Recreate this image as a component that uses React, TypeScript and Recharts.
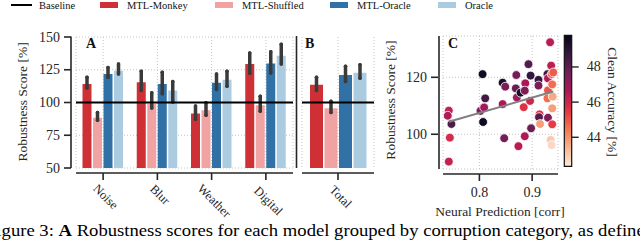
import React from "react";
import {
  BarChart, Bar, XAxis, YAxis, CartesianGrid, ReferenceLine, ErrorBar,
  ScatterChart, Scatter, ComposedChart, ReferenceArea,
} from "recharts";

// panel A
const CATEGORIES = ["Noise", "Blur", "Weather", "Digital"];
const MONKEY = [114.2, 115.5, 91.6, 129.3];
const MONKEY_LO = [111, 109.2, 87.3, 122.3];
const MONKEY_HI = [119.3, 123.8, 97.4, 137.7];
const SHUFFLED = [88.3, 99.1, 94.1, 97.9];
const SHUFFLED_LO = [86.5, 95.8, 90.3, 93.3];
const SHUFFLED_HI = [92.3, 107.4, 99.9, 104.7];
const MTL_ORACLE = [121.8, 114.2, 115, 129.8];
const MTL_ORACLE_LO = [119.3, 106.7, 110, 122.5];
const MTL_ORACLE_HI = [126.8, 123, 121.8, 138.7];
const ORACLE = [124.3, 109.2, 117.3, 135.6];
const ORACLE_LO = [121.8, 100.4, 112.5, 129.3];
const ORACLE_HI = [129.3, 116, 123.8, 144.5];

// panel B
const TOTAL_CAT = ["Total"];
const TOTAL = [113.5, 95.6, 121, 122.8];
const TOTAL_LO = [109.2, 92.3, 116, 118.5];
const TOTAL_HI = [119.3, 100.9, 127.6, 128.8];

const SCORE_TICKS = [50, 75, 100, 125, 150];
const BASELINE = 100;

// panel C
const NEURAL_PRED = [
  0.742, 0.740, 0.747, 0.744, 0.742, 0.806, 0.807, 0.811, 0.802, 0.809,
  0.844, 0.849, 0.844, 0.847, 0.870, 0.869, 0.871, 0.878, 0.887, 0.886,
  0.884, 0.874, 0.886, 0.893, 0.897, 0.896, 0.898, 0.912, 0.912, 0.914,
  0.913, 0.915, 0.929, 0.930, 0.930, 0.929, 0.930, 0.934, 0.936, 0.937,
  0.938, 0.939, 0.938, 0.938, 0.935, 0.937, 0.940,
];
const ROBUSTNESS = [
  108.3, 106.5, 103.6, 98.8, 90.4, 121.1, 104.3, 112.6, 108.2, 109.4,
  118.1, 116.7, 110.6, 98.6, 120.8, 116.1, 112.9, 114.6, 117.9, 115.3,
  109.5, 95.8, 99.3, 124.6, 120.6, 111.7, 102.1, 119.1, 117.1, 107.0,
  106.0, 103.6, 121.1, 119.6, 115.4, 112.6, 105.8, 132.3, 124.1, 121.1,
  117.5, 113.2, 109.1, 103.5, 98.0, 96.2, 121.7,
];
const CLEAN_ACC = [
  46.2, 46.5, 48.3, 45.8, 46.2, 49.5, 49.6, 48.5, 47.5, 46.8,
  49.3, 47.5, 46.6, 47.6, 47.6, 47.8, 46.8, 49.3, 46.6, 47.4,
  45.6, 46.4, 46.5, 48.2, 48.8, 46.0, 47.8, 48.8, 47.5, 45.6,
  48.2, 43.8, 48.6, 46.5, 45.0, 44.6, 47.4, 46.4, 46.3, 44.8,
  44.6, 43.6, 43.8, 45.4, 43.0, 42.7, 44.9,
];
const FIT_X = [0.742, 0.94];
const FIT_Y = [104.4, 115.0];
const ACC_MIN = 42.35;
const ACC_MAX = 49.8;
const ACC_TICKS = [44, 46, 48];

const ROCKET = ["#03051a", "#35193e", "#701f57", "#ad1759", "#e13342", "#f37651", "#f6b48f", "#faebdd"];

const RED = "#cf3035";
const PINK = "#f1a3a4";
const BLUE = "#3271a6";
const LIGHT = "#abcbe1";
const INK = "#262626";
const ERR = "#3a3a3a";
const GRID = "#c4c4c4";
const FONT = '"Liberation Serif", "Times New Roman", serif';

function hexToRgb(h: string) {
  return [1, 3, 5].map((i) => parseInt(h.slice(i, i + 2), 16));
}
function rocketR(acc: number) {
  let t = (ACC_MAX - acc) / (ACC_MAX - ACC_MIN);
  t = Math.max(0, Math.min(1, t));
  const pos = t * (ROCKET.length - 1);
  const i = Math.min(ROCKET.length - 2, Math.floor(pos));
  const f = pos - i;
  const a = hexToRgb(ROCKET[i]);
  const b = hexToRgb(ROCKET[i + 1]);
  const c = a.map((v, k) => Math.round(v + (b[k] - v) * f));
  return `rgb(${c[0]},${c[1]},${c[2]})`;
}

const err = (v: number, lo: number, hi: number) => [v - lo, hi - v];

const rowsA = CATEGORIES.map((cat, i) => ({
  cat,
  monkey: MONKEY[i], monkeyErr: err(MONKEY[i], MONKEY_LO[i], MONKEY_HI[i]),
  shuffled: SHUFFLED[i], shuffledErr: err(SHUFFLED[i], SHUFFLED_LO[i], SHUFFLED_HI[i]),
  mtlOracle: MTL_ORACLE[i], mtlOracleErr: err(MTL_ORACLE[i], MTL_ORACLE_LO[i], MTL_ORACLE_HI[i]),
  oracle: ORACLE[i], oracleErr: err(ORACLE[i], ORACLE_LO[i], ORACLE_HI[i]),
}));

const rowsB = TOTAL_CAT.map((cat) => ({
  cat,
  monkey: TOTAL[0], monkeyErr: err(TOTAL[0], TOTAL_LO[0], TOTAL_HI[0]),
  shuffled: TOTAL[1], shuffledErr: err(TOTAL[1], TOTAL_LO[1], TOTAL_HI[1]),
  mtlOracle: TOTAL[2], mtlOracleErr: err(TOTAL[2], TOTAL_LO[2], TOTAL_HI[2]),
  oracle: TOTAL[3], oracleErr: err(TOTAL[3], TOTAL_LO[3], TOTAL_HI[3]),
}));

const points = NEURAL_PRED.map((x, i) => ({ x, y: ROBUSTNESS[i], fill: rocketR(CLEAN_ACC[i]) }));
const fitLine = FIT_X.map((x, i) => ({ x, y: FIT_Y[i] }));

const SERIES = [
  { key: "monkey", name: "MTL-Monkey", color: RED },
  { key: "shuffled", name: "MTL-Shuffled", color: PINK },
  { key: "mtlOracle", name: "MTL-Oracle", color: BLUE },
  { key: "oracle", name: "Oracle", color: LIGHT },
];

const YTick = (props: any) => {
  const { x, y, payload } = props;
  return (
    <g>
      <line x1={x - 12} x2={x - 5} y1={y} y2={y} stroke={INK} strokeWidth={1.6} />
      <text x={x - 16} y={y} textAnchor="end" dominantBaseline="central" fontSize={14} fontFamily={FONT} fill={INK}>
        {payload.value}
      </text>
    </g>
  );
};

const NumXTick = (props: any) => {
  const { x, y, payload } = props;
  return (
    <g>
      <line x1={x} x2={x} y1={y + 5} y2={y + 12} stroke={INK} strokeWidth={1.6} />
      <text x={x} y={y + 28} textAnchor="middle" fontSize={14} fontFamily={FONT} fill={INK}>
        {payload.value.toFixed(1)}
      </text>
    </g>
  );
};

const CatTick = (props: any) => {
  const { x, y, payload } = props;
  const fs = 12.5;
  const len = String(payload.value).length * fs * 0.47;
  const cx = x + 2.5;
  const cy = y + 14 + (len + fs) * 0.3535;
  return (
    <g>
      <line x1={x} x2={x} y1={y + 5} y2={y + 12} stroke={INK} strokeWidth={1.6} />
      <text x={cx} y={cy} transform={`rotate(45 ${cx} ${cy})`} textAnchor="middle" dominantBaseline="central"
        fontSize={fs} fontFamily={FONT} fill={INK}>
        {payload.value}
      </text>
    </g>
  );
};

const BarTick = (props: any) => {
  const { x, y, payload } = props;
  return (
    <g>
      <line x1={x} x2={x + 7} y1={y} y2={y} stroke={INK} strokeWidth={1.4} />
      <text x={x + 15} y={y} textAnchor="start" dominantBaseline="central" fontSize={14} fontFamily={FONT} fill={INK}>
        {payload.value}
      </text>
    </g>
  );
};

function bars() {
  return SERIES.map((s) => (
    <Bar key={s.key} dataKey={s.key} fill={s.color} isAnimationActive={false}>
      <ErrorBar dataKey={s.key + "Err"} width={0} stroke={ERR} strokeWidth={3.5} strokeLinecap="round" />
    </Bar>
  ));
}

const abs: React.CSSProperties = { position: "absolute", left: 0, top: 0 };

export default function App() {
  return (
    <div style={{ position: "fixed", left: 0, top: 0, width: 640, height: 240, overflow: "hidden", background: "#fff", fontFamily: FONT }}>
      {/* A */}
      <div style={abs}>
        <BarChart width={300} height={240} data={rowsA} margin={{ top: 37, right: 7, bottom: 0, left: 0 }}
          barCategoryGap={6.5} barGap={1.5}>
          <CartesianGrid stroke={GRID} strokeDasharray="1 2" />
          <XAxis dataKey="cat" height={72} axisLine={false} tickLine={false} tickSize={0} tickMargin={0}
            tick={<CatTick />} interval={0} />
          <YAxis width={76} domain={[50, 150]} ticks={SCORE_TICKS} allowDataOverflow axisLine={false}
            tickLine={false} tickSize={0} tickMargin={0} tick={<YTick />} />
          {bars()}
          <ReferenceLine y={BASELINE} stroke="#000" strokeWidth={2} />
        </BarChart>
      </div>

      {/* B */}
      <div style={abs}>
        <BarChart width={640} height={240} data={rowsB} margin={{ top: 37, right: 266, bottom: 0, left: 302 }}
          barCategoryGap={8} barGap={1.5}>
          <CartesianGrid stroke={GRID} strokeDasharray="1 2" horizontal={false} />
          <XAxis dataKey="cat" height={72} axisLine={false} tickLine={false} tickSize={0} tickMargin={0}
            tick={<CatTick />} />
          <YAxis hide domain={[50, 150]} allowDataOverflow />
          {bars()}
          <ReferenceLine y={BASELINE} stroke="#000" strokeWidth={2} />
        </BarChart>
      </div>

      {/* C */}
      <div style={abs}>
        <ScatterChart width={640} height={240} margin={{ top: 36, right: 82, bottom: 0, left: 403 }}>
          <CartesianGrid stroke={GRID} strokeDasharray="1 2" />
          <XAxis type="number" dataKey="x" domain={[0.731, 0.949]} ticks={[0.8, 0.9]} allowDataOverflow height={71}
            axisLine={false} tickLine={false} tickSize={0} tickMargin={0} tick={<NumXTick />} />
          <YAxis type="number" dataKey="y" domain={[87.8, 134.5]} ticks={[100, 120]} allowDataOverflow width={40}
            axisLine={false} tickLine={false} tickSize={0} tickMargin={0} tick={<YTick />} />
          <Scatter data={points} isAnimationActive={false}
            shape={(p: any) => <circle cx={p.cx} cy={p.cy} r={4.4} fill={p.payload.fill} stroke="#fff" strokeWidth={0.8} />} />
          <Scatter data={fitLine} isAnimationActive={false} line={{ stroke: "#808080", strokeWidth: 2 }}
            shape={() => <g />} />
        </ScatterChart>
      </div>

      {/* colorbar */}
      <div style={abs}>
        <ComposedChart width={640} height={240} data={[{ x: 0 }, { x: 1 }]}
          margin={{ top: 35.3, right: 28.3, bottom: 73.7, left: 564.3 }}>
          <defs>
            <linearGradient id="rocketR" x1="0" y1="0" x2="0" y2="1">
              {ROCKET.map((c, i) => <stop key={i} offset={i / (ROCKET.length - 1)} stopColor={c} />)}
            </linearGradient>
          </defs>
          <XAxis hide type="number" dataKey="x" domain={[0, 1]} />
          <YAxis orientation="right" width={40} domain={[ACC_MIN, ACC_MAX]} ticks={ACC_TICKS} allowDataOverflow
            axisLine={false} tickLine={false} tickSize={0} tickMargin={0} tick={<BarTick />} />
          <ReferenceArea x1={0} x2={1} y1={ACC_MIN} y2={ACC_MAX} fill="url(#rocketR)" fillOpacity={1}
            stroke="#111" strokeWidth={1.2} />
        </ComposedChart>
      </div>

      {/* spines, legend, labels */}
      <svg width={640} height={240} style={{ ...abs, pointerEvents: "none" }} fontFamily={FONT}>
        <g stroke={INK} strokeWidth={1.6}>
          <line x1={71} x2={71} y1={36.5} y2={168} />
          <line x1={76} x2={293} y1={173} y2={173} />
          <line x1={296.5} x2={296.5} y1={36} y2={168} />
          <line x1={302} x2={374} y1={173} y2={173} />
          <line x1={439} x2={439} y1={36} y2={169} />
          <line x1={443} x2={558} y1={174} y2={174} />
        </g>
        <g fontSize={10.5} fill="#111">
          <line x1={11} x2={32} y1={5} y2={5} stroke="#000" strokeWidth={2} />
          <text x={39} y={9}>Baseline</text>
          <rect x={100} y={2} width={18} height={6} fill={RED} />
          <text x={127} y={9}>MTL-Monkey</text>
          <rect x={215} y={2} width={18} height={6} fill={PINK} />
          <text x={242} y={9}>MTL-Shuffled</text>
          <rect x={330} y={2} width={18} height={6} fill={BLUE} />
          <text x={357} y={9}>MTL-Oracle</text>
          <rect x={438} y={2} width={18} height={6} fill={LIGHT} />
          <text x={465} y={9}>Oracle</text>
        </g>
        <g fontSize={14} fontWeight="bold" fill="#111">
          <text x={86} y={48}>A</text>
          <text x={305} y={48}>B</text>
          <text x={448} y={48}>C</text>
        </g>
        <g fontSize={13.5} fill={INK}>
          <text x={22} y={102} textAnchor="middle" dominantBaseline="central" transform="rotate(-90 22 102)">Robustness Score [%]</text>
          <text x={390} y={100} textAnchor="middle" dominantBaseline="central" transform="rotate(-90 390 100)">Robustness Score [%]</text>
          <text x={612} y={102} textAnchor="middle" dominantBaseline="central" transform="rotate(90 612 102)">Clean Accuracy [%]</text>
          <text x={500} y={216} textAnchor="middle">Neural Prediction [corr]</text>
        </g>
        <text x={-14} y={236} fontSize={17} fill="#000" textLength={668} lengthAdjust="spacingAndGlyphs">
          Figure 3: <tspan fontWeight="bold">A</tspan> Robustness scores for each model grouped by corruption category, as defined
        </text>
      </svg>
    </div>
  );
}
